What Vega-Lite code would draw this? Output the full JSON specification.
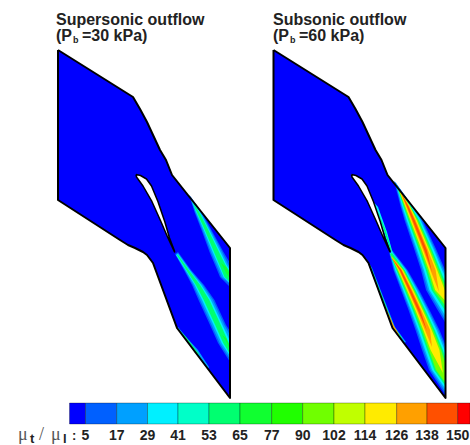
{
"$schema":"https://vega.github.io/schema/vega-lite/v6.json",
"width":470,"height":445,"padding":0,"autosize":{"type":"none"},
"background":"white",
"config":{"view":{"stroke":null}},
"datasets":{
"walls":[
{"g":"A","o":1,"x":58,"y":50},{"g":"A","o":2,"x":133,"y":97},{"g":"A","o":3,"x":140,"y":109},{"g":"A","o":4,"x":147,"y":122},{"g":"A","o":5,"x":160,"y":150},{"g":"A","o":6,"x":166,"y":160},{"g":"A","o":7,"x":172,"y":175},{"g":"A","o":8,"x":230,"y":248},{"g":"A","o":9,"x":230,"y":398},{"g":"A","o":10,"x":177,"y":328},{"g":"A","o":11,"x":153,"y":263},{"g":"A","o":12,"x":147,"y":255},{"g":"A","o":13,"x":143,"y":252},{"g":"A","o":14,"x":135,"y":248},{"g":"A","o":15,"x":128,"y":245},{"g":"A","o":16,"x":120,"y":240},{"g":"A","o":17,"x":58,"y":200},{"g":"A","o":18,"x":58,"y":50},
{"g":"B","o":1,"x":273.5,"y":50},{"g":"B","o":2,"x":348.5,"y":97},{"g":"B","o":3,"x":355.5,"y":109},{"g":"B","o":4,"x":362.5,"y":122},{"g":"B","o":5,"x":375.5,"y":150},{"g":"B","o":6,"x":381.5,"y":160},{"g":"B","o":7,"x":387.5,"y":175},{"g":"B","o":8,"x":445.5,"y":248},{"g":"B","o":9,"x":445.5,"y":398},{"g":"B","o":10,"x":392.5,"y":328},{"g":"B","o":11,"x":368.5,"y":263},{"g":"B","o":12,"x":362.5,"y":255},{"g":"B","o":13,"x":358.5,"y":252},{"g":"B","o":14,"x":350.5,"y":248},{"g":"B","o":15,"x":343.5,"y":245},{"g":"B","o":16,"x":335.5,"y":240},{"g":"B","o":17,"x":273.5,"y":200},{"g":"B","o":18,"x":273.5,"y":50}
],
"blades":[
{"g":"A","o":1,"x":136,"y":174.5},{"g":"A","o":2,"x":140.5,"y":175.5},{"g":"A","o":3,"x":146.5,"y":179},{"g":"A","o":4,"x":151.5,"y":186},{"g":"A","o":5,"x":158,"y":201.7},{"g":"A","o":6,"x":164.8,"y":221.7},{"g":"A","o":7,"x":169.5,"y":238},{"g":"A","o":8,"x":174.5,"y":251},{"g":"A","o":9,"x":174.5,"y":252},{"g":"A","o":10,"x":168,"y":238},{"g":"A","o":11,"x":161,"y":221.7},{"g":"A","o":12,"x":152,"y":201.7},{"g":"A","o":13,"x":143,"y":186},{"g":"A","o":14,"x":136.5,"y":177},{"g":"A","o":15,"x":136,"y":174.5},
{"g":"B","o":1,"x":351.5,"y":174.5},{"g":"B","o":2,"x":356,"y":175.5},{"g":"B","o":3,"x":362,"y":179},{"g":"B","o":4,"x":367,"y":186},{"g":"B","o":5,"x":373.5,"y":201.7},{"g":"B","o":6,"x":380.3,"y":221.7},{"g":"B","o":7,"x":385,"y":238},{"g":"B","o":8,"x":390,"y":251},{"g":"B","o":9,"x":390,"y":252},{"g":"B","o":10,"x":383.5,"y":238},{"g":"B","o":11,"x":376.5,"y":221.7},{"g":"B","o":12,"x":367.5,"y":201.7},{"g":"B","o":13,"x":358.5,"y":186},{"g":"B","o":14,"x":352,"y":177},{"g":"B","o":15,"x":351.5,"y":174.5}
],
"bands":[
{"g":1,"l":5,"o":1,"x":189,"y":195},{"g":1,"l":5,"o":2,"x":194.5,"y":212},{"g":1,"l":5,"o":3,"x":201.5,"y":230},{"g":1,"l":5,"o":4,"x":209.5,"y":252},{"g":1,"l":5,"o":5,"x":215,"y":265},{"g":1,"l":5,"o":6,"x":220,"y":277},{"g":1,"l":5,"o":7,"x":230,"y":287},{"g":1,"l":5,"o":8,"x":230,"y":263},{"g":1,"l":5,"o":9,"x":223.5,"y":252},{"g":1,"l":5,"o":10,"x":211.5,"y":230},{"g":1,"l":5,"o":11,"x":201.5,"y":212},{"g":1,"l":5,"o":12,"x":191,"y":197},
{"g":2,"l":17,"o":1,"x":190,"y":197},{"g":2,"l":17,"o":2,"x":195.2,"y":212},{"g":2,"l":17,"o":3,"x":202.5,"y":230},{"g":2,"l":17,"o":4,"x":210.9,"y":252},{"g":2,"l":17,"o":5,"x":216.5,"y":265},{"g":2,"l":17,"o":6,"x":221.6,"y":277},{"g":2,"l":17,"o":7,"x":230,"y":284},{"g":2,"l":17,"o":8,"x":230,"y":267},{"g":2,"l":17,"o":9,"x":228.5,"y":265},{"g":2,"l":17,"o":10,"x":222.1,"y":252},{"g":2,"l":17,"o":11,"x":210.5,"y":230},{"g":2,"l":17,"o":12,"x":200.8,"y":212},{"g":2,"l":17,"o":13,"x":191,"y":198},
{"g":3,"l":29,"o":1,"x":191,"y":199},{"g":3,"l":29,"o":2,"x":196.1,"y":212},{"g":3,"l":29,"o":3,"x":203.8,"y":230},{"g":3,"l":29,"o":4,"x":212.7,"y":252},{"g":3,"l":29,"o":5,"x":218.4,"y":265},{"g":3,"l":29,"o":6,"x":223.6,"y":277},{"g":3,"l":29,"o":7,"x":230,"y":283},{"g":3,"l":29,"o":8,"x":230,"y":270},{"g":3,"l":29,"o":9,"x":226.6,"y":265},{"g":3,"l":29,"o":10,"x":220.4,"y":252},{"g":3,"l":29,"o":11,"x":209.3,"y":230},{"g":3,"l":29,"o":12,"x":199.9,"y":212},
{"g":4,"l":53,"o":1,"x":193,"y":203},{"g":4,"l":53,"o":2,"x":196.8,"y":212},{"g":4,"l":53,"o":3,"x":204.8,"y":230},{"g":4,"l":53,"o":4,"x":214,"y":252},{"g":4,"l":53,"o":5,"x":219.5,"y":265},{"g":4,"l":53,"o":6,"x":224.5,"y":277},{"g":4,"l":53,"o":7,"x":230,"y":282},{"g":4,"l":53,"o":8,"x":230,"y":272},{"g":4,"l":53,"o":9,"x":225.5,"y":265},{"g":4,"l":53,"o":10,"x":219,"y":252},{"g":4,"l":53,"o":11,"x":208.3,"y":230},{"g":4,"l":53,"o":12,"x":199.2,"y":212},
{"g":5,"l":65,"o":1,"x":221,"y":263},{"g":5,"l":65,"o":2,"x":226,"y":273},{"g":5,"l":65,"o":3,"x":230,"y":279},{"g":5,"l":65,"o":4,"x":230,"y":274},{"g":5,"l":65,"o":5,"x":226,"y":267},
{"g":6,"l":5,"o":1,"x":175,"y":254},{"g":6,"l":5,"o":2,"x":184,"y":270},{"g":6,"l":5,"o":3,"x":192,"y":285},{"g":6,"l":5,"o":4,"x":198.5,"y":300},{"g":6,"l":5,"o":5,"x":210,"y":325},{"g":6,"l":5,"o":6,"x":218,"y":343},{"g":6,"l":5,"o":7,"x":230,"y":362},{"g":6,"l":5,"o":8,"x":230,"y":331},{"g":6,"l":5,"o":9,"x":226,"y":325},{"g":6,"l":5,"o":10,"x":214.5,"y":300},{"g":6,"l":5,"o":11,"x":204,"y":285},{"g":6,"l":5,"o":12,"x":191,"y":270},{"g":6,"l":5,"o":13,"x":178,"y":252},
{"g":7,"l":17,"o":1,"x":176,"y":255},{"g":7,"l":17,"o":2,"x":184.7,"y":270},{"g":7,"l":17,"o":3,"x":193.2,"y":285},{"g":7,"l":17,"o":4,"x":200.1,"y":300},{"g":7,"l":17,"o":5,"x":211.6,"y":325},{"g":7,"l":17,"o":6,"x":219.6,"y":343},{"g":7,"l":17,"o":7,"x":230,"y":359},{"g":7,"l":17,"o":8,"x":230,"y":335},{"g":7,"l":17,"o":9,"x":224.4,"y":325},{"g":7,"l":17,"o":10,"x":212.9,"y":300},{"g":7,"l":17,"o":11,"x":202.8,"y":285},{"g":7,"l":17,"o":12,"x":190.3,"y":270},{"g":7,"l":17,"o":13,"x":178,"y":253},
{"g":8,"l":29,"o":1,"x":176,"y":255},{"g":8,"l":29,"o":2,"x":185.6,"y":270},{"g":8,"l":29,"o":3,"x":194.7,"y":285},{"g":8,"l":29,"o":4,"x":202.1,"y":300},{"g":8,"l":29,"o":5,"x":213.6,"y":325},{"g":8,"l":29,"o":6,"x":221.6,"y":343},{"g":8,"l":29,"o":7,"x":230,"y":356},{"g":8,"l":29,"o":8,"x":230,"y":341},{"g":8,"l":29,"o":9,"x":222.4,"y":325},{"g":8,"l":29,"o":10,"x":210.9,"y":300},{"g":8,"l":29,"o":11,"x":201.3,"y":285},{"g":8,"l":29,"o":12,"x":189.4,"y":270},{"g":8,"l":29,"o":13,"x":178,"y":254},
{"g":9,"l":53,"o":1,"x":177,"y":255},{"g":9,"l":53,"o":2,"x":186.3,"y":270},{"g":9,"l":53,"o":3,"x":195.9,"y":285},{"g":9,"l":53,"o":4,"x":203.7,"y":300},{"g":9,"l":53,"o":5,"x":215.2,"y":325},{"g":9,"l":53,"o":6,"x":223.2,"y":343},{"g":9,"l":53,"o":7,"x":230,"y":354},{"g":9,"l":53,"o":8,"x":230,"y":346},{"g":9,"l":53,"o":9,"x":228.8,"y":343},{"g":9,"l":53,"o":10,"x":220.8,"y":325},{"g":9,"l":53,"o":11,"x":209.3,"y":300},{"g":9,"l":53,"o":12,"x":200.1,"y":285},{"g":9,"l":53,"o":13,"x":188.7,"y":270},{"g":9,"l":53,"o":14,"x":178,"y":255},
{"g":10,"l":65,"o":1,"x":222,"y":335},{"g":10,"l":65,"o":2,"x":227,"y":343},{"g":10,"l":65,"o":3,"x":230,"y":351},{"g":10,"l":65,"o":4,"x":230,"y":347},{"g":10,"l":65,"o":5,"x":226,"y":338},
{"g":11,"l":17,"o":1,"x":177,"y":328},{"g":11,"l":17,"o":2,"x":208,"y":369},{"g":11,"l":17,"o":3,"x":209,"y":367},{"g":11,"l":17,"o":4,"x":198,"y":350},{"g":11,"l":17,"o":5,"x":187,"y":338},{"g":11,"l":17,"o":6,"x":178,"y":327},
{"g":12,"l":53,"o":1,"x":177,"y":328},{"g":12,"l":53,"o":2,"x":197,"y":355},{"g":12,"l":53,"o":3,"x":199,"y":354},{"g":12,"l":53,"o":4,"x":186,"y":337},
{"g":20,"l":5,"o":1,"x":394,"y":181},{"g":20,"l":5,"o":2,"x":400.5,"y":206},{"g":20,"l":5,"o":3,"x":404.5,"y":220},{"g":20,"l":5,"o":4,"x":414.5,"y":250},{"g":20,"l":5,"o":5,"x":421,"y":270},{"g":20,"l":5,"o":6,"x":426,"y":290},{"g":20,"l":5,"o":7,"x":437,"y":309},{"g":20,"l":5,"o":8,"x":445.5,"y":323},{"g":20,"l":5,"o":9,"x":445.5,"y":271},{"g":20,"l":5,"o":10,"x":436.5,"y":250},{"g":20,"l":5,"o":11,"x":422.5,"y":220},{"g":20,"l":5,"o":12,"x":412.5,"y":206},{"g":20,"l":5,"o":13,"x":396,"y":183},
{"g":21,"l":17,"o":1,"x":395,"y":182},{"g":21,"l":17,"o":2,"x":401.3,"y":206},{"g":21,"l":17,"o":3,"x":405.6,"y":220},{"g":21,"l":17,"o":4,"x":415.8,"y":250},{"g":21,"l":17,"o":5,"x":422.4,"y":270},{"g":21,"l":17,"o":6,"x":427.7,"y":290},{"g":21,"l":17,"o":7,"x":445.5,"y":320},{"g":21,"l":17,"o":8,"x":445.5,"y":273},{"g":21,"l":17,"o":9,"x":443.6,"y":270},{"g":21,"l":17,"o":10,"x":435.2,"y":250},{"g":21,"l":17,"o":11,"x":421.4,"y":220},{"g":21,"l":17,"o":12,"x":412,"y":206},
{"g":22,"l":29,"o":1,"x":396,"y":184},{"g":22,"l":29,"o":2,"x":402.2,"y":206},{"g":22,"l":29,"o":3,"x":406.7,"y":220},{"g":22,"l":29,"o":4,"x":417.1,"y":250},{"g":22,"l":29,"o":5,"x":423.9,"y":270},{"g":22,"l":29,"o":6,"x":429.4,"y":290},{"g":22,"l":29,"o":7,"x":445.5,"y":316},{"g":22,"l":29,"o":8,"x":445.5,"y":277},{"g":22,"l":29,"o":9,"x":442.1,"y":270},{"g":22,"l":29,"o":10,"x":433.9,"y":250},{"g":22,"l":29,"o":11,"x":420.3,"y":220},{"g":22,"l":29,"o":12,"x":411.5,"y":206},
{"g":23,"l":53,"o":1,"x":397,"y":186},{"g":23,"l":53,"o":2,"x":403.3,"y":206},{"g":23,"l":53,"o":3,"x":408.1,"y":220},{"g":23,"l":53,"o":4,"x":418.9,"y":250},{"g":23,"l":53,"o":5,"x":425.8,"y":270},{"g":23,"l":53,"o":6,"x":431.6,"y":290},{"g":23,"l":53,"o":7,"x":445.5,"y":311},{"g":23,"l":53,"o":8,"x":445.5,"y":283},{"g":23,"l":53,"o":9,"x":440.2,"y":270},{"g":23,"l":53,"o":10,"x":432.1,"y":250},{"g":23,"l":53,"o":11,"x":418.9,"y":220},{"g":23,"l":53,"o":12,"x":410.5,"y":206},
{"g":24,"l":90,"o":1,"x":398,"y":188},{"g":24,"l":90,"o":2,"x":404.3,"y":206},{"g":24,"l":90,"o":3,"x":409.4,"y":220},{"g":24,"l":90,"o":4,"x":420.4,"y":250},{"g":24,"l":90,"o":5,"x":427.5,"y":270},{"g":24,"l":90,"o":6,"x":433.6,"y":290},{"g":24,"l":90,"o":7,"x":445.5,"y":306},{"g":24,"l":90,"o":8,"x":445.5,"y":288},{"g":24,"l":90,"o":9,"x":438.5,"y":270},{"g":24,"l":90,"o":10,"x":430.6,"y":250},{"g":24,"l":90,"o":11,"x":417.6,"y":220},{"g":24,"l":90,"o":12,"x":409.7,"y":206},
{"g":25,"l":114,"o":1,"x":399,"y":190},{"g":25,"l":114,"o":2,"x":405.1,"y":206},{"g":25,"l":114,"o":3,"x":410.4,"y":220},{"g":25,"l":114,"o":4,"x":421.8,"y":250},{"g":25,"l":114,"o":5,"x":428.9,"y":270},{"g":25,"l":114,"o":6,"x":435.2,"y":290},{"g":25,"l":114,"o":7,"x":445.5,"y":301},{"g":25,"l":114,"o":8,"x":445.5,"y":292},{"g":25,"l":114,"o":9,"x":437.1,"y":270},{"g":25,"l":114,"o":10,"x":429.2,"y":250},{"g":25,"l":114,"o":11,"x":416.6,"y":220},{"g":25,"l":114,"o":12,"x":409.9,"y":206},
{"g":26,"l":126,"o":1,"x":400,"y":191},{"g":26,"l":126,"o":2,"x":406,"y":206},{"g":26,"l":126,"o":3,"x":411.5,"y":220},{"g":26,"l":126,"o":4,"x":423.1,"y":250},{"g":26,"l":126,"o":5,"x":430.4,"y":270},{"g":26,"l":126,"o":6,"x":439,"y":292},{"g":26,"l":126,"o":7,"x":435.6,"y":270},{"g":26,"l":126,"o":8,"x":427.9,"y":250},{"g":26,"l":126,"o":9,"x":415.5,"y":220},{"g":26,"l":126,"o":10,"x":409,"y":206},
{"g":27,"l":138,"o":1,"x":401,"y":193},{"g":27,"l":138,"o":2,"x":406.7,"y":206},{"g":27,"l":138,"o":3,"x":412.4,"y":220},{"g":27,"l":138,"o":4,"x":424.2,"y":250},{"g":27,"l":138,"o":5,"x":432,"y":272},{"g":27,"l":138,"o":6,"x":426.8,"y":250},{"g":27,"l":138,"o":7,"x":414.6,"y":220},{"g":27,"l":138,"o":8,"x":408.3,"y":206},
{"g":30,"l":5,"o":1,"x":389,"y":252},{"g":30,"l":5,"o":2,"x":393.5,"y":270},{"g":30,"l":5,"o":3,"x":401,"y":290},{"g":30,"l":5,"o":4,"x":408.5,"y":310},{"g":30,"l":5,"o":5,"x":415.5,"y":330},{"g":30,"l":5,"o":6,"x":422,"y":350},{"g":30,"l":5,"o":7,"x":429,"y":370},{"g":30,"l":5,"o":8,"x":445.5,"y":395},{"g":30,"l":5,"o":9,"x":445.5,"y":345},{"g":30,"l":5,"o":10,"x":439.5,"y":330},{"g":30,"l":5,"o":11,"x":429.5,"y":310},{"g":30,"l":5,"o":12,"x":419,"y":290},{"g":30,"l":5,"o":13,"x":407.5,"y":270},{"g":30,"l":5,"o":14,"x":392,"y":250},
{"g":31,"l":17,"o":1,"x":390,"y":253},{"g":31,"l":17,"o":2,"x":394.3,"y":270},{"g":31,"l":17,"o":3,"x":402.1,"y":290},{"g":31,"l":17,"o":4,"x":409.8,"y":310},{"g":31,"l":17,"o":5,"x":416.9,"y":330},{"g":31,"l":17,"o":6,"x":423.6,"y":350},{"g":31,"l":17,"o":7,"x":430.6,"y":370},{"g":31,"l":17,"o":8,"x":445.5,"y":392},{"g":31,"l":17,"o":9,"x":445.5,"y":348},{"g":31,"l":17,"o":10,"x":438.1,"y":330},{"g":31,"l":17,"o":11,"x":428.2,"y":310},{"g":31,"l":17,"o":12,"x":417.9,"y":290},{"g":31,"l":17,"o":13,"x":406.7,"y":270},{"g":31,"l":17,"o":14,"x":392,"y":251},
{"g":32,"l":29,"o":1,"x":390,"y":253},{"g":32,"l":29,"o":2,"x":395.2,"y":270},{"g":32,"l":29,"o":3,"x":403.2,"y":290},{"g":32,"l":29,"o":4,"x":411,"y":310},{"g":32,"l":29,"o":5,"x":418.4,"y":330},{"g":32,"l":29,"o":6,"x":425.1,"y":350},{"g":32,"l":29,"o":7,"x":432.1,"y":370},{"g":32,"l":29,"o":8,"x":445.5,"y":389},{"g":32,"l":29,"o":9,"x":445.5,"y":352},{"g":32,"l":29,"o":10,"x":436.6,"y":330},{"g":32,"l":29,"o":11,"x":427,"y":310},{"g":32,"l":29,"o":12,"x":416.8,"y":290},{"g":32,"l":29,"o":13,"x":405.8,"y":270},{"g":32,"l":29,"o":14,"x":392,"y":252},
{"g":33,"l":53,"o":1,"x":390,"y":254},{"g":33,"l":53,"o":2,"x":396.3,"y":270},{"g":33,"l":53,"o":3,"x":404.6,"y":290},{"g":33,"l":53,"o":4,"x":412.7,"y":310},{"g":33,"l":53,"o":5,"x":420.3,"y":330},{"g":33,"l":53,"o":6,"x":427.2,"y":350},{"g":33,"l":53,"o":7,"x":434.2,"y":370},{"g":33,"l":53,"o":8,"x":445.5,"y":386},{"g":33,"l":53,"o":9,"x":445.5,"y":358},{"g":33,"l":53,"o":10,"x":442.8,"y":350},{"g":33,"l":53,"o":11,"x":434.7,"y":330},{"g":33,"l":53,"o":12,"x":425.3,"y":310},{"g":33,"l":53,"o":13,"x":415.4,"y":290},{"g":33,"l":53,"o":14,"x":404.7,"y":270},{"g":33,"l":53,"o":15,"x":392,"y":253},
{"g":34,"l":90,"o":1,"x":391,"y":255},{"g":34,"l":90,"o":2,"x":397.3,"y":270},{"g":34,"l":90,"o":3,"x":405.9,"y":290},{"g":34,"l":90,"o":4,"x":414.2,"y":310},{"g":34,"l":90,"o":5,"x":422,"y":330},{"g":34,"l":90,"o":6,"x":429,"y":350},{"g":34,"l":90,"o":7,"x":436,"y":370},{"g":34,"l":90,"o":8,"x":445.5,"y":383},{"g":34,"l":90,"o":9,"x":445.5,"y":364},{"g":34,"l":90,"o":10,"x":441,"y":350},{"g":34,"l":90,"o":11,"x":433,"y":330},{"g":34,"l":90,"o":12,"x":423.8,"y":310},{"g":34,"l":90,"o":13,"x":414.1,"y":290},{"g":34,"l":90,"o":14,"x":403.7,"y":270},
{"g":35,"l":114,"o":1,"x":391,"y":256},{"g":35,"l":114,"o":2,"x":398.1,"y":270},{"g":35,"l":114,"o":3,"x":406.9,"y":290},{"g":35,"l":114,"o":4,"x":415.4,"y":310},{"g":35,"l":114,"o":5,"x":423.4,"y":330},{"g":35,"l":114,"o":6,"x":430.6,"y":350},{"g":35,"l":114,"o":7,"x":443,"y":373},{"g":35,"l":114,"o":8,"x":439.4,"y":350},{"g":35,"l":114,"o":9,"x":431.6,"y":330},{"g":35,"l":114,"o":10,"x":422.6,"y":310},{"g":35,"l":114,"o":11,"x":413.1,"y":290},{"g":35,"l":114,"o":12,"x":402.9,"y":270},
{"g":36,"l":126,"o":1,"x":391,"y":256},{"g":36,"l":126,"o":2,"x":399,"y":270},{"g":36,"l":126,"o":3,"x":408,"y":290},{"g":36,"l":126,"o":4,"x":416.7,"y":310},{"g":36,"l":126,"o":5,"x":424.9,"y":330},{"g":36,"l":126,"o":6,"x":432,"y":347},{"g":36,"l":126,"o":7,"x":430.1,"y":330},{"g":36,"l":126,"o":8,"x":421.3,"y":310},{"g":36,"l":126,"o":9,"x":412,"y":290},{"g":36,"l":126,"o":10,"x":402,"y":270},
{"g":37,"l":138,"o":1,"x":391,"y":257},{"g":37,"l":138,"o":2,"x":399.7,"y":270},{"g":37,"l":138,"o":3,"x":408.9,"y":290},{"g":37,"l":138,"o":4,"x":417.7,"y":310},{"g":37,"l":138,"o":5,"x":427,"y":331},{"g":37,"l":138,"o":6,"x":420.3,"y":310},{"g":37,"l":138,"o":7,"x":411.1,"y":290},{"g":37,"l":138,"o":8,"x":401.3,"y":270},
{"g":40,"l":17,"o":1,"x":366,"y":258},{"g":40,"l":17,"o":2,"x":392.5,"y":328},{"g":40,"l":17,"o":3,"x":404,"y":343},{"g":40,"l":17,"o":4,"x":406,"y":342},{"g":40,"l":17,"o":5,"x":395,"y":327},{"g":40,"l":17,"o":6,"x":372,"y":268},
{"g":41,"l":53,"o":1,"x":369,"y":264},{"g":41,"l":53,"o":2,"x":392.5,"y":328},{"g":41,"l":53,"o":3,"x":400,"y":338},{"g":41,"l":53,"o":4,"x":402,"y":338},{"g":41,"l":53,"o":5,"x":394,"y":327},{"g":41,"l":53,"o":6,"x":371,"y":267},
{"g":42,"l":126,"o":1,"x":384,"y":306},{"g":42,"l":126,"o":2,"x":392.5,"y":328},{"g":42,"l":126,"o":3,"x":398,"y":335.5},{"g":42,"l":126,"o":4,"x":399,"y":334.5},{"g":42,"l":126,"o":5,"x":394,"y":326},{"g":42,"l":126,"o":6,"x":386,"y":308},
{"g":43,"l":29,"o":1,"x":373.5,"y":202},{"g":43,"l":29,"o":2,"x":380.5,"y":222},{"g":43,"l":29,"o":3,"x":390,"y":250},{"g":43,"l":29,"o":4,"x":393,"y":254},{"g":43,"l":29,"o":5,"x":387,"y":232},{"g":43,"l":29,"o":6,"x":378,"y":207},
{"g":44,"l":53,"o":1,"x":376,"y":207},{"g":44,"l":53,"o":2,"x":382,"y":224},{"g":44,"l":53,"o":3,"x":390.5,"y":250},{"g":44,"l":53,"o":4,"x":392,"y":252},{"g":44,"l":53,"o":5,"x":385.5,"y":230}
],
"bar":[
{"l":0,"x0":69.5,"x1":85.5,"t":"5"},{"l":5,"x0":85.5,"x1":116.7,"t":"17"},{"l":17,"x0":116.7,"x1":147.5,"t":"29"},{"l":29,"x0":147.5,"x1":178,"t":"41"},{"l":41,"x0":178,"x1":209,"t":"53"},{"l":53,"x0":209,"x1":240,"t":"65"},{"l":65,"x0":240,"x1":271.7,"t":"77"},{"l":77,"x0":271.7,"x1":302.7,"t":"90"},{"l":90,"x0":302.7,"x1":334,"t":"102"},{"l":102,"x0":334,"x1":365,"t":"114"},{"l":114,"x0":365,"x1":396.7,"t":"126"},{"l":126,"x0":396.7,"x1":427,"t":"138"},{"l":138,"x0":427,"x1":457.7,"t":"150"},{"l":150,"x0":457.7,"x1":470,"t":""}
],
"boldtext":[
{"t":"Supersonic outflow","x":56,"y":25,"s":16},{"t":"(P","x":56,"y":41,"s":16},{"t":"b","x":73,"y":43,"s":9},{"t":"=30 kPa)","x":82,"y":41,"s":16},
{"t":"Subsonic outflow","x":273,"y":25,"s":16},{"t":"(P","x":273,"y":41,"s":16},{"t":"b","x":290,"y":43,"s":9},{"t":"=60 kPa)","x":299,"y":41,"s":16},
{"t":"t","x":30,"y":443,"s":13},{"t":"l","x":63,"y":443,"s":13},{"t":":","x":72,"y":440,"s":13}
],
"serif":[{"t":"μ","x":18,"y":440},{"t":"/","x":39,"y":440},{"t":"μ","x":51,"y":440}]
},
"layer":[
{"data":{"name":"walls"},"mark":{"type":"line","fill":"#0000ff","strokeWidth":0},
 "encoding":{
  "x":{"field":"x","type":"quantitative","scale":{"domain":[0,470]},"axis":null},
  "y":{"field":"y","type":"quantitative","scale":{"domain":[445,0]},"axis":null},
  "detail":{"field":"g"},"order":{"field":"o","type":"quantitative"}}},
{"data":{"name":"bands"},"mark":{"type":"line","strokeWidth":0},
 "encoding":{
  "x":{"field":"x","type":"quantitative","scale":{"domain":[0,470]},"axis":null},
  "y":{"field":"y","type":"quantitative","scale":{"domain":[445,0]},"axis":null},
  "fill":{"field":"l","type":"ordinal","legend":null,"scale":{"domain":[0,5,17,29,41,53,65,77,90,102,114,126,138,150],"range":["#0000ff","#0060ff","#00a0ff","#00f0ff","#00ffc8","#00ff70","#10ff30","#20ff00","#70ff00","#c0ff00","#ffeb00","#ffa000","#ff5000","#ff0000"]}},
  "detail":{"field":"g"},"order":{"field":"o","type":"quantitative"}}},
{"data":{"name":"walls"},"mark":{"type":"line","stroke":"#000000","strokeWidth":2,"strokeJoin":"round"},
 "encoding":{
  "x":{"field":"x","type":"quantitative","scale":{"domain":[0,470]},"axis":null},
  "y":{"field":"y","type":"quantitative","scale":{"domain":[445,0]},"axis":null},
  "detail":{"field":"g"},"order":{"field":"o","type":"quantitative"}}},
{"data":{"name":"blades"},"mark":{"type":"line","fill":"#ffffff","stroke":"#000000","strokeWidth":1.5,"strokeJoin":"round"},
 "encoding":{
  "x":{"field":"x","type":"quantitative","scale":{"domain":[0,470]},"axis":null},
  "y":{"field":"y","type":"quantitative","scale":{"domain":[445,0]},"axis":null},
  "detail":{"field":"g"},"order":{"field":"o","type":"quantitative"}}},
{"data":{"name":"bar"},"mark":{"type":"rect","stroke":"#000000","strokeOpacity":0.3,"strokeWidth":1},
 "encoding":{
  "x":{"field":"x0","type":"quantitative","scale":{"domain":[0,470]},"axis":null},
  "x2":{"field":"x1"},
  "y":{"datum":403,"type":"quantitative","scale":{"domain":[445,0]},"axis":null},
  "y2":{"datum":424},
  "fill":{"field":"l","type":"ordinal","legend":null,"scale":{"domain":[0,5,17,29,41,53,65,77,90,102,114,126,138,150],"range":["#0000ff","#0060ff","#00a0ff","#00f0ff","#00ffc8","#00ff70","#10ff30","#20ff00","#70ff00","#c0ff00","#ffeb00","#ffa000","#ff5000","#ff0000"]}}}},
{"data":{"name":"bar"},"mark":{"type":"text","font":"Liberation Sans","fontWeight":"bold","fontSize":14,"align":"center","baseline":"alphabetic","fill":"#222222"},
 "encoding":{
  "x":{"field":"x1","type":"quantitative","scale":{"domain":[0,470]},"axis":null},
  "y":{"datum":440,"type":"quantitative","scale":{"domain":[445,0]},"axis":null},
  "text":{"field":"t"}}},
{"data":{"name":"boldtext"},"mark":{"type":"text","font":"Liberation Sans","fontWeight":"bold","align":"left","baseline":"alphabetic","fill":"#222222"},
 "encoding":{
  "x":{"field":"x","type":"quantitative","scale":{"domain":[0,470]},"axis":null},
  "y":{"field":"y","type":"quantitative","scale":{"domain":[445,0]},"axis":null},
  "size":{"field":"s","type":"quantitative","scale":null},
  "text":{"field":"t"}}},
{"data":{"name":"serif"},"mark":{"type":"text","font":"Liberation Serif","fontSize":18,"align":"left","baseline":"alphabetic","fill":"#555555"},
 "encoding":{
  "x":{"field":"x","type":"quantitative","scale":{"domain":[0,470]},"axis":null},
  "y":{"field":"y","type":"quantitative","scale":{"domain":[445,0]},"axis":null},
  "text":{"field":"t"}}}
]
}
